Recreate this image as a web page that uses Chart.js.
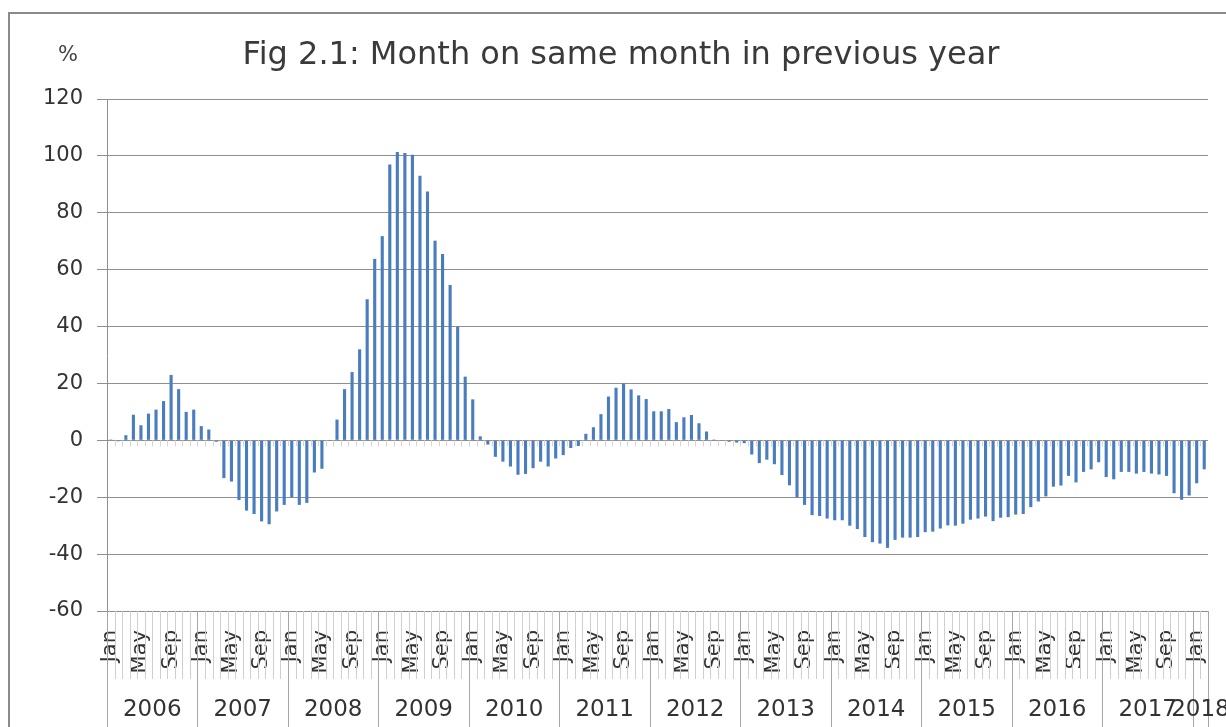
<!DOCTYPE html>
<html><head><meta charset="utf-8">
<script src="https://cdn.jsdelivr.net/npm/chart.js@4.4.1/dist/chart.umd.min.js"></script>
<style>html,body{margin:0;padding:0;background:#fff;overflow:hidden}#wrap{position:relative;width:1226px;height:727px}</style>
</head><body><div id="wrap"><canvas id="c"></canvas></div>
<script>
const titleText = 'Fig 2.1: Month on same month in previous year';
const unitLabel = '%';
const years = ['2006','2007','2008','2009','2010','2011','2012','2013','2014','2015','2016','2017','2018'];
const monthNames = ['Jan','Feb','Mar','Apr','May','Jun','Jul','Aug','Sep','Oct','Nov','Dec'];
const shownMonths = ['Jan','May','Sep'];
const yTicks = [-60,-40,-20,0,20,40,60,80,100,120];

const v2006 = [0.3, -0.3, 1.8, 9.0, 5.3, 9.4, 10.8, 13.8, 23.0, 18.0, 10.0, 10.8];
const v2007 = [5.0, 3.8, -0.5, -13.3, -14.5, -21.0, -24.7, -25.9, -28.5, -29.5, -25.0, -22.7];
const v2008 = [-20.0, -22.7, -22.0, -11.3, -10.0, 0.2, 7.3, 18.0, 24.0, 32.0, 49.6, 63.8];
const v2009 = [71.8, 97.0, 101.4, 101.0, 100.4, 93.0, 87.5, 70.2, 65.5, 54.6, 39.9, 22.4];
const v2010 = [14.4, 1.4, -1.5, -5.8, -7.5, -9.2, -12.1, -11.8, -9.8, -7.5, -9.2, -6.4];
const v2011 = [-5.2, -2.7, -2.0, 2.3, 4.6, 9.2, 15.4, 18.5, 20.0, 17.9, 15.8, 14.5];
const v2012 = [10.2, 10.2, 11.0, 6.4, 8.1, 8.9, 6.0, 3.1, 0.3, -0.2, -0.5, -0.8];
const v2013 = [-1.0, -5.0, -8.0, -6.8, -8.4, -12.2, -15.8, -20.0, -22.7, -26.3, -26.6, -27.5];
const v2014 = [-28.1, -28.1, -30.0, -31.2, -34.0, -35.8, -36.3, -37.8, -35.0, -34.2, -34.2, -34.0];
const v2015 = [-32.3, -32.1, -31.0, -29.9, -30.0, -29.3, -27.9, -27.5, -26.8, -28.4, -27.2, -27.0];
const v2016 = [-26.1, -25.9, -23.5, -21.5, -19.7, -16.3, -15.9, -12.5, -14.8, -11.1, -10.2, -7.7];
const v2017 = [-12.9, -13.7, -11.1, -11.1, -11.7, -11.1, -11.7, -12.0, -12.5, -18.6, -20.9, -19.4];
const v2018 = [-15.1, -10.2];

const yearValues = [v2006,v2007,v2008,v2009,v2010,v2011,v2012,v2013,v2014,v2015,v2016,v2017,v2018];
const values = [].concat(...yearValues);
const categories = [];
const yearOf = [];
yearValues.forEach((arr, yi) => arr.forEach((_, mi) => { categories.push(monthNames[mi]); yearOf.push(years[yi]); }));

const FONT = '"DejaVu Sans", Verdana, sans-serif';
const GRID = '#8f8f8f';

const decor = {
  id: 'decor',
  beforeDraw(chart) {
    const ctx = chart.ctx;
    ctx.save();
    ctx.fillStyle = '#fff';
    ctx.fillRect(0, 0, chart.width, chart.height);
    ctx.restore();
  },
  afterDraw(chart) {
    const ctx = chart.ctx, xs = chart.scales.x, ys = chart.scales.y, ca = chart.chartArea;
    const n = values.length;
    const half = (xs.getPixelForValue(1) - xs.getPixelForValue(0)) / 2;
    const y0 = ys.getPixelForValue(0);
    ctx.save();
    // outer frame (left and top visible)
    ctx.strokeStyle = '#8a8a8a'; ctx.lineWidth = 2;
    ctx.beginPath(); ctx.moveTo(9, chart.height); ctx.lineTo(9, 13); ctx.lineTo(chart.width, 13); ctx.stroke();
    ctx.lineWidth = 1;
    for (let i = 0; i <= n; i++) {
      const px = Math.round(xs.getPixelForValue(i) - half) + 0.5;
      if (i > 0 && i < n) {
        ctx.strokeStyle = '#d6d6d6';
        ctx.beginPath(); ctx.moveTo(px, y0); ctx.lineTo(px, y0 + 6); ctx.stroke();
      }
      const isYear = (i === n) || (i < n && monthNames.indexOf(categories[i]) === 0);
      ctx.strokeStyle = isYear ? '#a6a6a6' : '#cfcfcf';
      ctx.beginPath(); ctx.moveTo(px, ca.bottom); ctx.lineTo(px, isYear ? chart.height : ca.bottom + 68); ctx.stroke();
    }
    // year labels
    ctx.fillStyle = '#333'; ctx.font = '23px ' + FONT; ctx.textAlign = 'center'; ctx.textBaseline = 'middle';
    years.forEach(yr => {
      const first = yearOf.indexOf(yr), last = yearOf.lastIndexOf(yr);
      const cx = (xs.getPixelForValue(first) - half + xs.getPixelForValue(last) + half) / 2;
      ctx.fillText(yr, cx, 710);
    });
    // title and unit
    ctx.fillStyle = '#3a3a3a'; ctx.font = '32px ' + FONT; ctx.textBaseline = 'alphabetic';
    ctx.fillText(titleText, 621, 64);
    ctx.fillStyle = '#444'; ctx.font = '21px ' + FONT; ctx.textBaseline = 'middle';
    ctx.fillText(unitLabel, 68, 56);
    ctx.restore();
  }
};

new Chart(document.getElementById('c'), {
  type: 'bar',
  data: {
    labels: categories,
    datasets: [{
      data: values,
      backgroundColor: '#4a7dbd',
      borderWidth: 0,
      barPercentage: 0.9,
      categoryPercentage: 0.46
    }]
  },
  options: {
    responsive: true,
    maintainAspectRatio: false,
    animation: false,
    layout: { padding: { left: 0, right: 18, top: 99, bottom: 0 } },
    plugins: { legend: { display: false }, tooltip: { enabled: false }, title: { display: false } },
    scales: {
      x: {
        offset: true,
        grid: { drawOnChartArea: false, drawTicks: false },
        border: { display: true, color: GRID },
        afterFit(scale) { scale.height = 116; scale.paddingLeft = 0; scale.paddingRight = 0; },
        ticks: {
          autoSkip: false, minRotation: 90, maxRotation: 90, padding: 19,
          color: '#333', font: { family: FONT, size: 21 },
          callback(value, index) { return shownMonths.includes(categories[index]) ? categories[index] : ''; }
        }
      },
      y: {
        min: yTicks[0], max: yTicks[yTicks.length - 1],
        afterFit(scale) { scale.width = 107; },
        afterBuildTicks(scale) { scale.ticks = yTicks.map(v => ({ value: v })); },
        grid: { color: GRID, drawTicks: true, tickLength: 10 },
        border: { display: true, color: GRID },
        ticks: { padding: 14, color: '#333', font: { family: FONT, size: 21 } }
      }
    }
  },
  plugins: [decor]
});
</script></body></html>
